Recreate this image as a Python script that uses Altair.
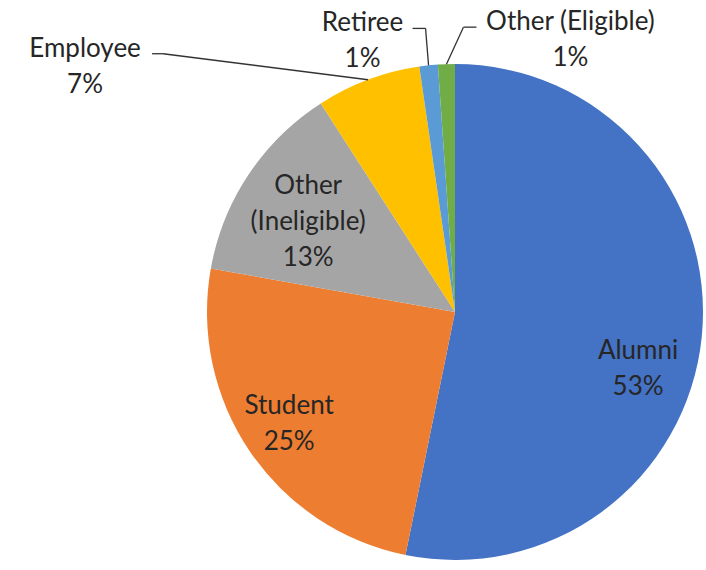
import altair as alt
import pandas as pd

# ---- data ----
CATEGORIES = ["Alumni", "Student", "Other (Ineligible)", "Employee", "Retiree", "Other (Eligible)"]
SHARES = [53.2, 24.6, 13.1, 6.8, 1.2, 1.1]
COLORS = ["#4472C4", "#ED7D31", "#A5A5A5", "#FFC000", "#5B9BD5", "#70AD47"]

df = pd.DataFrame({"category": CATEGORIES, "value": SHARES, "ord": list(range(len(CATEGORIES)))})

# ---- layout / style ----
CX, CY, R = 455, 312, 248
R_IN = 186
FONT = "Lato"
FS = 26
LH = 36
TXT = "#262626"
LINE = "#333333"

W, H = 706, 570

base = (
    alt.Chart(df)
    .transform_joinaggregate(total="sum(value)")
    .transform_window(cum="sum(value)", sort=[alt.SortField("ord", order="ascending")])
    .transform_calculate(
        mid="2*PI*(datum.cum - datum.value/2)/datum.total",
        pct="format(datum.value/datum.total, '.0%')",
    )
)

pie = alt.Chart(df).mark_arc(radius=R).encode(
    theta=alt.Theta("value:Q", stack=True),
    color=alt.Color("category:N", scale=alt.Scale(domain=CATEGORIES, range=COLORS), legend=None),
    order=alt.Order("ord:Q"),
    x=alt.value(CX),
    y=alt.value(CY),
)

XN = dict(scale=None, axis=None)


def label(cat, r, dx, dy, split=False):
    name = "replace(datum.category, ' (', '\\n(')" if split else "datum.category"
    nlines = 3 if split else 2
    return (
        base.transform_filter(alt.datum.category == cat)
        .transform_calculate(
            tx=f"{CX} + {r}*sin(datum.mid)",
            ty=f"{CY} - {r}*cos(datum.mid)",
            txt=f"{name} + '\\n' + datum.pct",
        )
        .mark_text(font=FONT, fontSize=FS, color=TXT, lineBreak="\n", lineHeight=LH,
                   align="center", baseline="middle", dx=dx,
                   dy=dy - (nlines - 1) * LH / 2)
        .encode(x=alt.X("tx:Q", **XN), y=alt.Y("ty:Q", **XN), text="txt:N")
    )


def leader(cat, elbow, end):
    layers = []
    pts = [(0, 0), elbow, end]
    for (ax, ay), (bx, by) in zip(pts[:-1], pts[1:]):
        layers.append(
            base.transform_filter(alt.datum.category == cat)
            .transform_calculate(
                x1=f"{CX} + {R}*sin(datum.mid) + {ax}",
                y1=f"{CY} - {R}*cos(datum.mid) + {ay}",
                x2=f"{CX} + {R}*sin(datum.mid) + {bx}",
                y2=f"{CY} - {R}*cos(datum.mid) + {by}",
            )
            .mark_rule(color=LINE, strokeWidth=1.3)
            .encode(x=alt.X("x1:Q", **XN), y=alt.Y("y1:Q", **XN), x2="x2:Q", y2="y2:Q")
        )
    return layers


layers = [pie]
layers.append(label("Alumni", R_IN, -2, 38))
layers.append(label("Student", R_IN, -12, 7))
layers.append(label("Other (Ineligible)", R_IN, 8, 13, split=True))
layers.append(label("Employee", R, -283, -13))
layers.append(label("Retiree", R, -66, -24))
layers.append(label("Other (Eligible)", R, 124, -24))
layers += leader("Employee", (-205, -26), (-216, -26))
layers += leader("Retiree", (-3, -37), (-16, -37))
layers += leader("Other (Eligible)", (17, -37), (30, -37))

chart = (
    alt.layer(*layers)
    .properties(width=W, height=H, padding=0, autosize=alt.AutoSizeParams(type="none"))
    .configure_view(stroke=None)
)

chart.save("out.html", embed_options={"renderer": "svg", "actions": False})
